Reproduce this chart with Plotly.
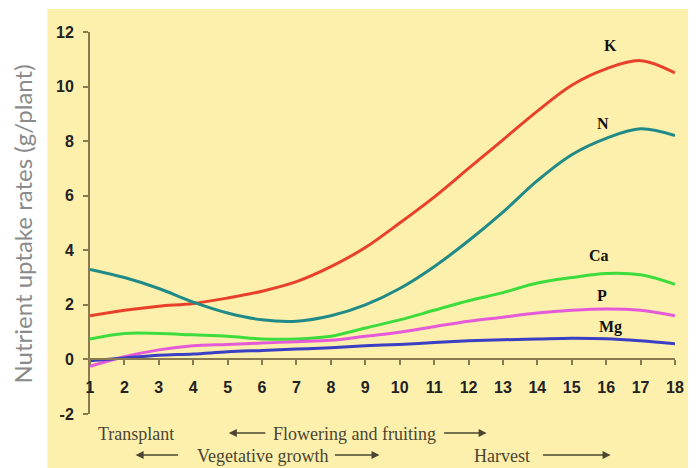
import plotly.graph_objects as go

weeks = list(range(1, 19))
K  = [1.6, 1.8, 1.95, 2.05, 2.25, 2.5, 2.85, 3.4, 4.1, 5.0, 5.95, 7.0, 8.05, 9.1, 10.05, 10.65, 10.95, 10.5]
N  = [3.3, 3.0, 2.6, 2.1, 1.7, 1.45, 1.4, 1.6, 2.0, 2.6, 3.4, 4.35, 5.4, 6.55, 7.5, 8.1, 8.45, 8.2]
Ca = [0.75, 0.95, 0.95, 0.9, 0.85, 0.75, 0.75, 0.85, 1.15, 1.45, 1.8, 2.15, 2.45, 2.8, 3.0, 3.15, 3.1, 2.75]
P  = [-0.25, 0.1, 0.35, 0.5, 0.55, 0.6, 0.65, 0.7, 0.85, 1.0, 1.2, 1.4, 1.55, 1.7, 1.8, 1.85, 1.8, 1.6]
Mg = [-0.05, 0.05, 0.15, 0.2, 0.28, 0.33, 0.38, 0.43, 0.5, 0.55, 0.62, 0.68, 0.72, 0.75, 0.78, 0.76, 0.68, 0.57]

series = [("K", K, "#e8402a"), ("N", N, "#1f8a87"), ("Ca", Ca, "#3ddc3d"),
          ("P", P, "#e45ad8"), ("Mg", Mg, "#3b3fc4")]
label_pos = {"K": (16.13, 11.5), "N": (15.9, 8.64), "Ca": (15.8, 3.8), "P": (15.87, 2.34), "Mg": (16.13, 1.2)}

y_ticks = [-2, 0, 2, 4, 6, 8, 10, 12]
y_tick_text = ["-2", "0", "2", "4", "6", "8", "10", "12"]

fig = go.Figure()
for name, vals, col in series:
    fig.add_trace(go.Scatter(x=weeks, y=vals, mode="lines", name=name,
                             line=dict(color=col, width=3, shape="spline", smoothing=1.0)))

OFF = 8  # default page body margin
W, H = 696 - OFF, 468 - OFF
L, R, T, B = 82, 16, 24, 54
pw, ph = W - L - R, H - T - B

def px(sx):
    return (sx - OFF - L) / pw

def py(sy):
    return (H - B - (sy - OFF)) / ph

axis_col = "#8a7a50"
text_col = "#4a4532"
ann = []
for name, vals, col in series:
    lx, ly = label_pos[name]
    ann.append(dict(x=lx, y=ly, xref="x", yref="y", text="<b>%s</b>" % name, showarrow=False,
                    xanchor="center", yanchor="middle",
                    font=dict(family="Liberation Serif", size=16, color="#111111")))

serif = dict(family="Liberation Serif", size=18, color=text_col)
def txt(x, y, s, font=serif, **kw):
    return dict(x=px(x), y=py(y), xref="paper", yref="paper", text=s, showarrow=False,
                xanchor="center", yanchor="middle", font=font, **kw)

ann += [
    txt(136, 434, "Transplant"),
    txt(357, 434, "Flowering and fruiting"),
    txt(264, 456, "Vegetative growth"),
    txt(506, 456, "Harvest"),
    txt(21, 224, "Nutrient uptake rates (g/plant)", font=dict(family="Lato", size=24, color="#8a8a8a"),
        textangle=-90),
]
arrows = [((230, 433), (268, 433)), ((490, 433), (446, 433)),
          ((136, 455), (180, 455)), ((382, 455), (336, 455)),
          ((615, 455), (546, 455))]
for (hx, hy), (tx, ty) in arrows:
    ann.append(dict(x=px(hx), y=py(hy), xref="paper", yref="paper", text="", showarrow=True,
                    ax=tx - hx, ay=ty - hy, arrowhead=2, arrowsize=1, arrowwidth=1.6,
                    arrowcolor=text_col))

fig.update_layout(
    width=W, height=H, margin=dict(l=L, r=R, t=T, b=B),
    paper_bgcolor="white", plot_bgcolor="rgba(0,0,0,0)",
    showlegend=False, annotations=ann,
    shapes=[dict(type="rect", xref="paper", yref="paper", x0=px(47), x1=px(710), y0=py(480), y1=py(9),
                 fillcolor="#fdf0ac", line=dict(width=0), layer="below")],
    xaxis=dict(range=[1, 18], tickvals=weeks, showgrid=False, zeroline=False,
               showline=True, linecolor=axis_col, linewidth=2, ticks="outside", ticklen=5,
               tickcolor=axis_col, tickwidth=2, anchor="free", position=2 / 14,
               ticklabelstandoff=8,
               tickfont=dict(family="Liberation Sans", size=16, color="#222222", weight="bold")),
    yaxis=dict(range=[-2, 12], tickvals=y_ticks, ticktext=y_tick_text, showgrid=False, zeroline=False,
               showline=True, linecolor=axis_col, linewidth=2, ticks="outside", ticklen=5,
               tickcolor=axis_col, tickwidth=2, ticklabelstandoff=6,
               tickfont=dict(family="Liberation Sans", size=16, color="#222222", weight="bold")),
)

fig.write_html("out.html")
